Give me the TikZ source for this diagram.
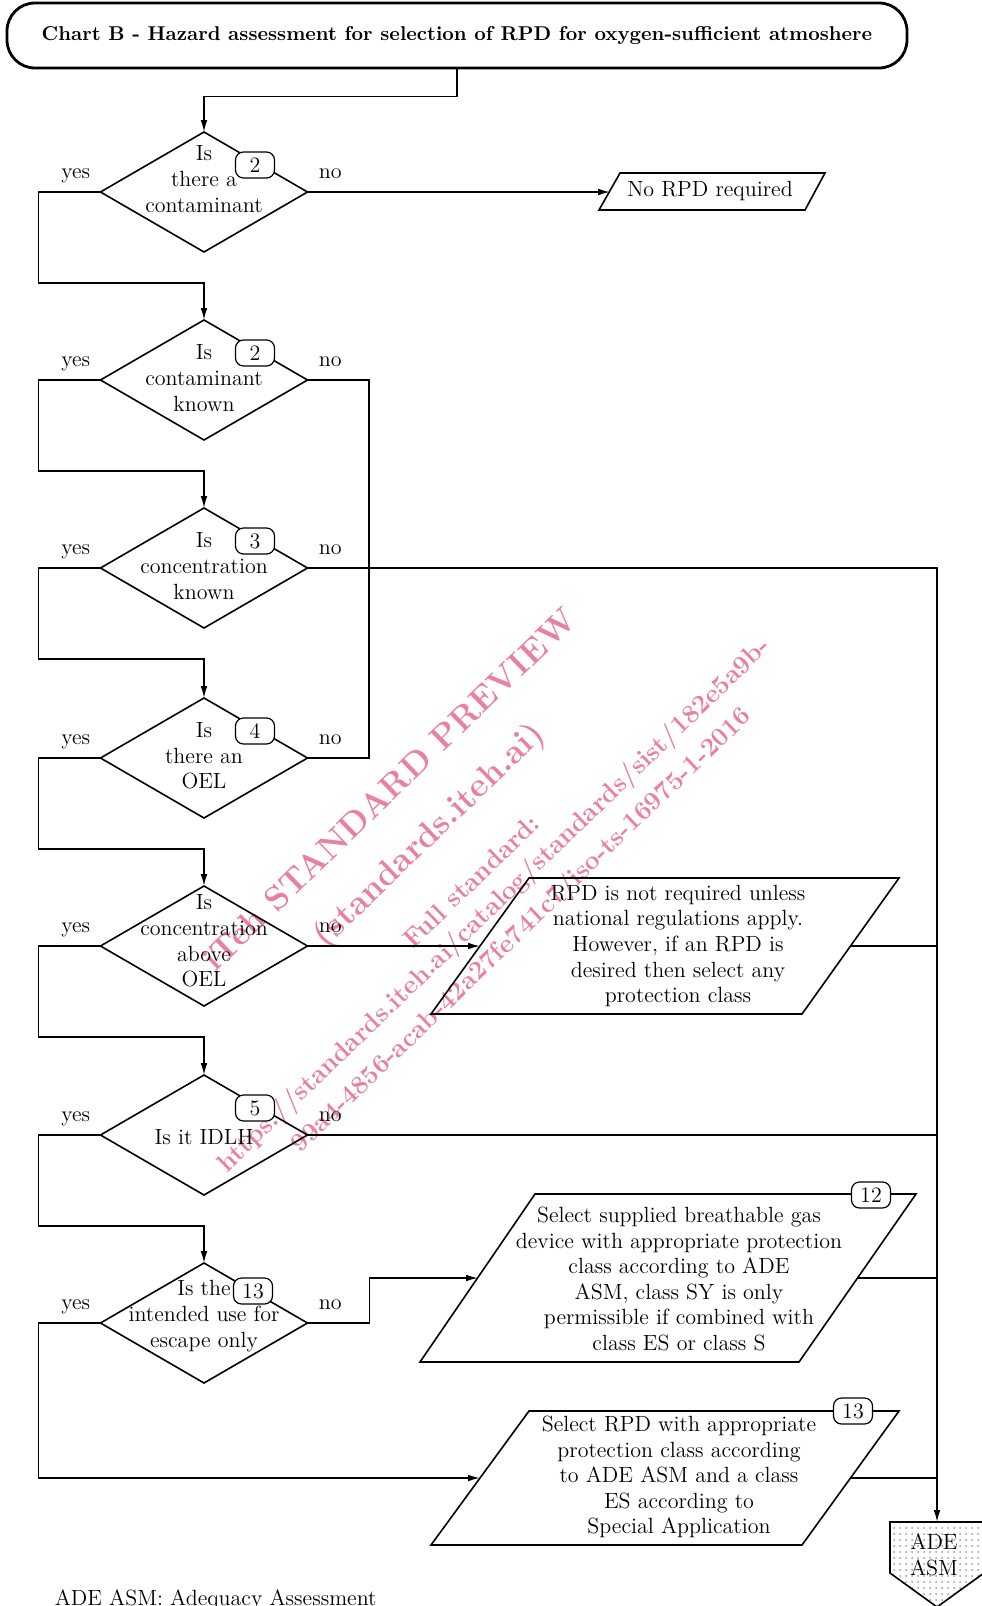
\documentclass[tikz,border=0pt]{standalone}
\usepackage{tikz}
\usetikzlibrary{arrows.meta,positioning,shapes.geometric,patterns}
\usepackage{xcolor}
\definecolor{wmpink}{RGB}{234,128,160}

\begin{document}
\begin{tikzpicture}[
        x=0.5pt, y=-0.5pt,
        every node/.style={font=\fontsize{11}{12.8}\selectfont, inner sep=0pt},
        line width=0.8pt,
        titlebox/.style={draw, line width=1.4pt, rounded corners=14pt, minimum width=450pt, minimum height=32.5pt, font=\fontsize{10}{12}\selectfont\bfseries},
        decision/.style={diamond, draw, minimum width=103.5pt, minimum height=60pt, outer sep=0pt},
        question/.style={align=center},
        badge/.style={draw, fill=white, line width=0.6pt, rounded corners=4pt, minimum width=19.5pt, minimum height=13pt},
        result/.style={align=center},
        flow/.style={-{Latex[length=6pt,width=3.4pt]}},
        wmark/.style={text=wmpink, rotate=44}
      ]
      \useasboundingbox (0,0) rectangle (981,1606);

      % watermark
      \node[wmark, font=\fontsize{17}{17}\selectfont\bfseries] (wm1) at (389,789) {iTeh STANDARD PREVIEW};
      \node[wmark, font=\fontsize{17}{17}\selectfont\bfseries] (wm2) at (430,836) {(standards.iteh.ai)};
      \node[wmark, font=\fontsize{13}{13}\selectfont\bfseries] (wm3) at (471,881) {Full standard:};
      \node[wmark, font=\fontsize{13}{13}\selectfont\bfseries] (wm4) at (495,906) {https://standards.iteh.ai/catalog/standards/sist/182e5a9b-};
      \node[wmark, font=\fontsize{13}{13}\selectfont\bfseries] (wm5) at (522,931) {99a4-4856-acab-42a27fe741c7/iso-ts-16975-1-2016};

      \node[titlebox] (title) at (457,35.5) {Chart B - Hazard assessment for selection of RPD for oxygen-sufficient atmoshere};

      % questions
      \node[decision] (d1) at (204,192) {};
      \node[question] (q1) at (204,179) {Is\\there a\\contaminant};
      \node[badge] (b1) at (255,165) {2};
      \node[anchor=base east] (y1) at (91,178) {yes};
      \node[anchor=base west] (n1) at (318,178) {no};

      \node[decision] (d2) at (204,380) {};
      \node[question] (q2) at (204,378) {Is\\contaminant\\known};
      \node[badge] (b2) at (255,353) {2};
      \node[anchor=base east] (y2) at (91,366) {yes};
      \node[anchor=base west] (n2) at (318,366) {no};

      \node[decision] (d3) at (204,568) {};
      \node[question] (q3) at (204,566) {Is\\concentration\\known};
      \node[badge] (b3) at (255,541) {3};
      \node[anchor=base east] (y3) at (91,554) {yes};
      \node[anchor=base west] (n3) at (318,554) {no};

      \node[decision] (d4) at (204,758) {};
      \node[question] (q4) at (204,756) {Is\\there an\\OEL};
      \node[badge] (b4) at (255,731) {4};
      \node[anchor=base east] (y4) at (91,744) {yes};
      \node[anchor=base west] (n4) at (318,744) {no};

      \node[decision] (d5) at (204,946) {};
      \node[question] (q5) at (204,941) {Is\\concentration\\above\\OEL};
      \node[anchor=base east] (y5) at (91,932) {yes};
      \node[anchor=base west] (n5) at (318,932) {no};

      \node[decision] (d6) at (204,1135) {};
      \node[question] (q6) at (204,1137) {Is it IDLH};
      \node[badge] (b6) at (255,1108) {5};
      \node[anchor=base east] (y6) at (91,1121) {yes};
      \node[anchor=base west] (n6) at (318,1121) {no};

      \node[decision] (d7) at (204,1323) {};
      \node[question] (q7) at (204,1316) {Is the\\intended use for\\escape only};
      \node[badge] (b7) at (253,1291) {13};
      \node[anchor=base east] (y7) at (91,1309) {yes};
      \node[anchor=base west] (n7) at (318,1309) {no};

      % outcomes
      \draw (620,173) -- (825,173) -- (805,210) -- (599,210) -- cycle;
      \node[result] (p1) at (710,191) {No RPD required};
      \coordinate (p1w) at (610,192);

      \draw (529,878) -- (899,878) -- (802,1014) -- (431,1014) -- cycle;
      \node[result] (p2) at (678,946) {RPD is not required unless\\national regulations apply.\\However, if an RPD is\\desired then select any\\protection class};
      \coordinate (p2w) at (480,946);
      \coordinate (p2e) at (851,946);

      \draw (535,1194) -- (916,1194) -- (799,1362) -- (420,1362) -- cycle;
      \node[result] (p3) at (679,1279) {Select supplied breathable gas\\device with appropriate protection\\class according to ADE\\ASM, class SY is only\\permissible if combined with\\class ES or class S};
      \node[badge] (b12) at (871,1195) {12};
      \coordinate (p3w) at (478,1278);
      \coordinate (p3e) at (857,1278);

      \draw (529,1411) -- (899,1411) -- (802,1545) -- (431,1545) -- cycle;
      \node[result] (p4) at (679,1477) {Select RPD with appropriate\\protection class according\\to ADE ASM and a class\\ES according to\\Special Application};
      \node[badge] (b13) at (853,1411) {13};
      \coordinate (p4w) at (480,1478);
      \coordinate (p4e) at (851,1478);

      \draw[pattern=dots, pattern color=black!40] (890,1522) -- (984,1522) -- (984,1573) -- (937,1607) -- (890,1573) -- cycle;
      \node[align=center] (ade) at (934,1555) {ADE\\ASM};
      \coordinate (adetop) at (937,1522);
      \coordinate (nojoin) at (369,758);

      \node[anchor=base west] (note) at (54,1605) {ADE ASM: Adequacy Assessment};

      % connectors
      \draw[flow] (title.south) -- ++(0,27) -| (d1.north);
      \draw[flow] (d1.east) -- (p1w);
      \draw[flow] (d1.west) -- ++(-62,0) -- ++(0,91) -| (d2.north);
      \draw[flow] (d2.west) -- ++(-62,0) -- ++(0,91) -| (d3.north);
      \draw[flow] (d3.west) -- ++(-62,0) -- ++(0,91) -| (d4.north);
      \draw[flow] (d4.west) -- ++(-62,0) -- ++(0,91) -| (d5.north);
      \draw[flow] (d5.west) -- ++(-62,0) -- ++(0,91) -| (d6.north);
      \draw[flow] (d6.west) -- ++(-62,0) -- ++(0,91) -| (d7.north);
      \draw[flow] (d7.west) -- ++(-62,0) |- (p4w);
      \draw (d2.east) -| (nojoin) -- (d4.east);
      \draw[flow] (d3.east) -| (adetop);
      \draw[flow] (d5.east) -- (p2w);
      \draw (p2e) -- (p2e -| adetop);
      \draw (d6.east) -- (d6.east -| adetop);
      \draw[flow] (d7.east) -- ++(62,0) |- (p3w);
      \draw (p3e) -- (p3e -| adetop);
      \draw (p4e) -- (p4e -| adetop);
    \end{tikzpicture}
\end{document}
